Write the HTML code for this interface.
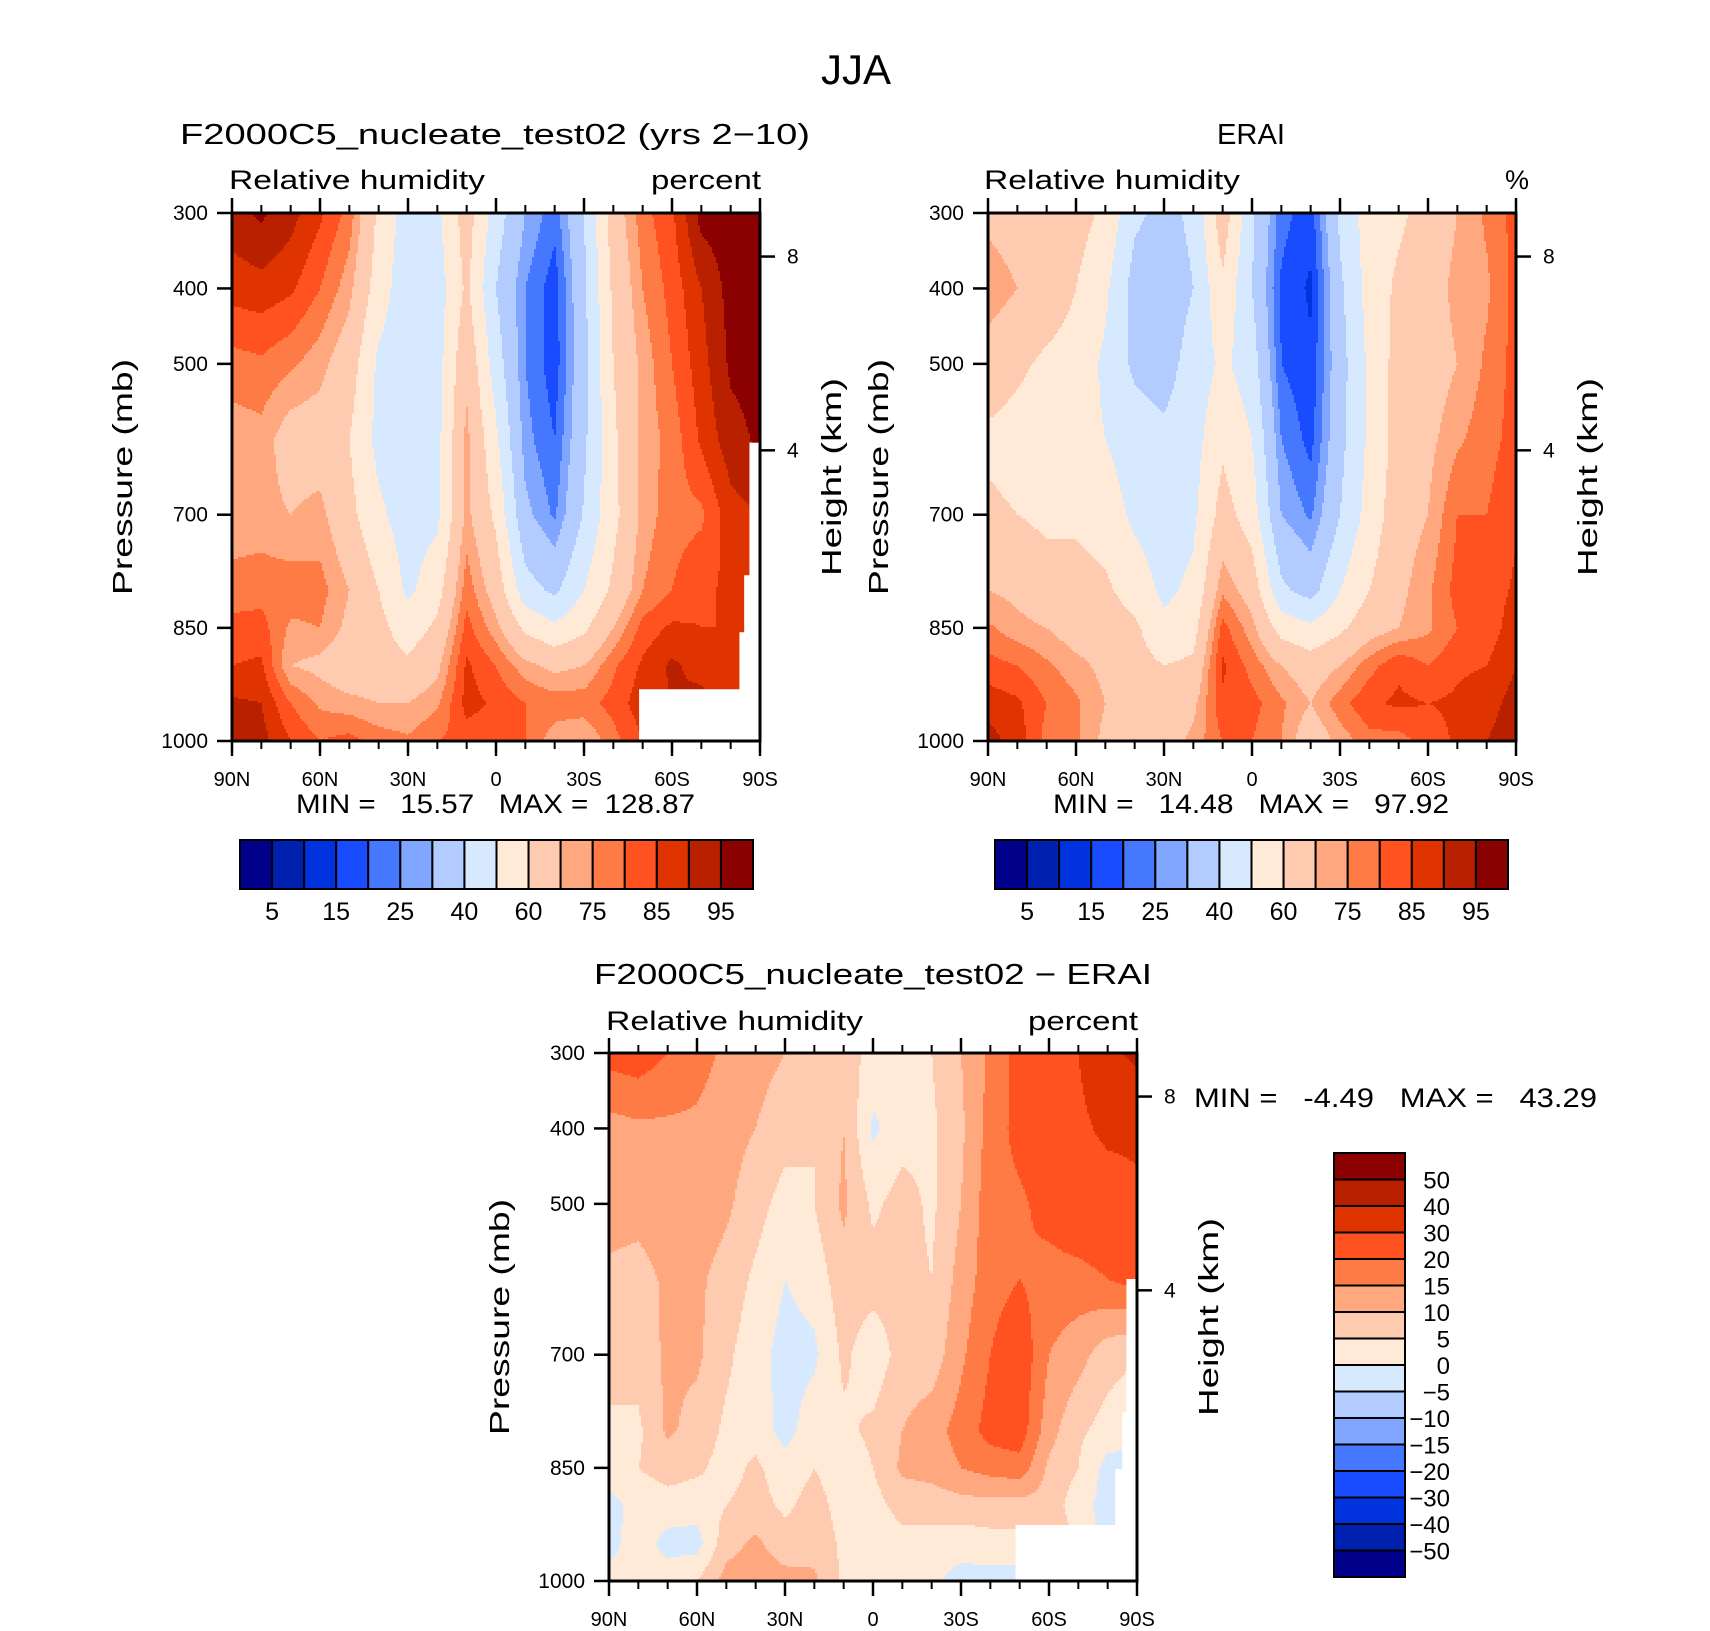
<!DOCTYPE html>
<html><head><meta charset="utf-8"><style>
html,body{margin:0;padding:0;background:#fff}
svg{display:block}
text{font-family:"Liberation Sans",sans-serif;fill:#000}
</style></head><body>
<svg id="fig" width="1710" height="1631" viewBox="0 0 1710 1631" xmlns="http://www.w3.org/2000/svg">
<text x="856" y="84" font-size="42" text-anchor="middle">JJA</text>
<text x="180" y="144" font-size="29" textLength="630" lengthAdjust="spacingAndGlyphs">F2000C5_nucleate_test02 (yrs 2−10)</text>
<text x="229" y="189" font-size="27" textLength="256" lengthAdjust="spacingAndGlyphs">Relative humidity</text>
<text x="651" y="189" font-size="27" textLength="110" lengthAdjust="spacingAndGlyphs">percent</text>
<text x="1251" y="144" font-size="29" text-anchor="middle" textLength="68" lengthAdjust="spacingAndGlyphs">ERAI</text>
<text x="984" y="189" font-size="27" textLength="256" lengthAdjust="spacingAndGlyphs">Relative humidity</text>
<text x="1505" y="189" font-size="27">%</text>
<text x="594" y="984" font-size="29" textLength="558" lengthAdjust="spacingAndGlyphs">F2000C5_nucleate_test02 − ERAI</text>
<text x="606" y="1030" font-size="27" textLength="257" lengthAdjust="spacingAndGlyphs">Relative humidity</text>
<text x="1028" y="1030" font-size="27" textLength="110" lengthAdjust="spacingAndGlyphs">percent</text>
<text x="296" y="813" font-size="27" textLength="399" lengthAdjust="spacingAndGlyphs" xml:space="preserve">MIN =   15.57   MAX =  128.87</text>
<text x="1053" y="813" font-size="27" textLength="396" lengthAdjust="spacingAndGlyphs" xml:space="preserve">MIN =   14.48   MAX =   97.92</text>
<text x="1194" y="1107" font-size="27" textLength="403" lengthAdjust="spacingAndGlyphs" xml:space="preserve">MIN =   -4.49   MAX =   43.29</text>
<g id="layers"></g>
</svg>
<script>
const pressures=[300,400,500,600,700,800,850,900,950,1000];
const latLabels=["90N","60N","30N","0","30S","60S","90S"];
const pTickLabels=[300,400,500,700,850,1000];
const heightTicks=[8,4];
const absLevels=[5,10,15,20,25,30,40,50,60,70,75,80,85,90,95];
const absLabels=["5","15","25","40","60","75","85","95"];
const diffLevels=[-50,-40,-30,-20,-15,-10,-5,0,5,10,15,20,30,40,50];
const diffLabels=["50","40","30","20","15","10","5","0","−5","−10","−15","−20","−30","−40","−50"];
const palette=["#00008B","#0020B0","#0033DD","#1A4CFF","#4577FF","#80A6FF","#B3CCFF","#D6E9FF","#FFEAD8","#FFCBB0","#FFA880","#FF7B45","#FF5220","#E03400","#B82000","#8B0000"];
// rows = pressures, cols = 90N..90S every 10 deg
const modelRH=[
[93,96,92,86,78,58,45,48,65,45,30,22,40,65,78,84,97,98,99],
[87,88,86,80,72,55,43,45,62,40,25,17,38,62,75,82,90,97,98],
[78,79,76,72,65,48,44,46,68,45,25,17,37,60,72,80,88,96,97],
[72,73,66,66,60,47,44,47,72,52,27,20,38,58,72,77,86,93,96],
[72,72,70,72,63,52,45,48,72,58,32,24,41,57,72,78,79,88,90],
[77,78,78,77,70,60,48,56,78,66,44,38,50,62,75,80,84,86,88],
[82,82,74,75,68,63,55,62,82,72,58,52,58,70,82,86,85,85,86],
[85,86,70,68,64,64,62,68,86,80,72,68,70,79,86,91,88,86,86],
[91,90,80,74,72,70,70,74,87,84,80,78,78,82,88,90,92,88,88],
[93,92,85,80,82,78,76,80,82,82,80,72,70,78,85,88,90,88,88]];
const eraiRH=[
[68,66,64,64,58,42,37,42,66,42,22,17,42,55,58,64,70,76,82],
[74,70,66,60,52,36,34,40,58,40,19,14,38,54,62,66,72,74,82],
[66,62,58,56,48,38,36,44,52,45,20,16,36,52,64,66,70,76,82],
[58,56,54,54,50,45,42,46,58,50,25,18,37,52,64,68,74,78,82],
[62,60,58,58,55,48,45,48,64,55,30,24,40,54,66,70,80,80,84],
[70,68,64,64,62,55,48,52,74,66,42,36,50,60,68,74,82,82,86],
[76,72,70,66,66,62,52,56,82,72,56,52,58,66,70,74,80,82,88],
[82,80,76,72,68,64,60,62,86,78,70,65,70,78,84,80,84,85,90],
[88,86,80,76,70,66,65,68,84,82,76,70,78,84,86,85,86,88,92],
[92,88,78,76,68,62,65,72,80,80,75,64,72,78,78,82,86,90,93]];
const diffRH=[
[22,23,20,17,14,12,10,9,8,3,3,5,10,16,22,23,30,38,42],
[13,14,14,14,12,10,7,5,10,-1,3,4,9,17,22,25,28,32,32],
[12,12,13,13,11,7,3,5,11,4,7,4,10,18,19,22,25,25,28],
[9,8,11,11,8,4,0,2,8,7,7,5,12,18,20,18,18,20,22],
[7,7,11,11,6,2,-2,-1,6,2,7,7,14,20,24,15,12,7,5],
[4,4,11,8,4,3,-2,3,4,6,10,13,17,22,23,12,6,3,2],
[3,5,7,6,3,6,2,5,2,5,11,12,15,17,18,9,5,-2,-2],
[-2,2,3,2,5,7,4,7,3,3,7,7,8,8,8,8,2,-2,-2],
[-2,3,-2,-2,8,11,7,8,4,2,3,3,2,3,3,10,4,-2,-2],
[2,2,3,5,12,13,12,11,4,1,3,1,-2,-2,-2,2,2,-2,-2]];

const NS="http://www.w3.org/2000/svg";
const root=document.getElementById('layers');
function mk(tag,attrs,parent){const e=document.createElementNS(NS,tag);for(const k in attrs)e.setAttribute(k,attrs[k]);(parent||root).appendChild(e);return e;}
function levelIndex(v,lv){let i=0;while(i<lv.length&&v>=lv[i])i++;return i;}
function sample(data,fx,p){
  const nx=data[0].length-1;let cx=fx*nx;let i=Math.min(Math.floor(cx),nx-1);const tx=cx-i;
  let k=0;while(k<pressures.length-2&&p>pressures[k+1])k++;
  const ty=Math.max(0,Math.min(1,(p-pressures[k])/(pressures[k+1]-pressures[k])));
  const a=data[k][i],b=data[k][i+1],c=data[k+1][i],d=data[k+1][i+1];
  return a*(1-tx)*(1-ty)+b*tx*(1-ty)+c*(1-tx)*ty+d*tx*ty;
}
function drawPanel(name,data,lv,x0,y0,w,h,mask){
  const g=mk('g',{});
  
  
  const xS=f=>x0+f*w, pS=p=>y0+(p-300)/700*h;
  const step=2;
  for(let y=0;y<h;y+=step){
    const p=300+((y+step/2)/h)*700;
    let runStart=0,runC=-1;
    for(let x=0;x<=w;x+=step){
      let c=-1;
      if(x<w){c=levelIndex(sample(data,Math.min(1,(x+step/2)/w),p),lv);}
      if(c!==runC){
        if(runC>=0){mk('rect',{x:x0+runStart,y:y0+y,width:Math.min(x,w)-runStart+0.6,height:step+0.6,fill:palette[runC]},g);}
        runStart=x;runC=c;
      }
    }
  }
  const mg=mk('g',{});
  
  
  mask.forEach(m=>{mk('rect',{x:x0+m[0]*w,y:y0+m[1]*h,width:(1-m[0])*w+1,height:(1-m[1])*h+1,fill:'#fff'},mg);});
  const fr=mk('rect',{x:x0,y:y0,width:w,height:h,fill:'none',stroke:'#000','stroke-width':3});
  
  
  for(let d=0;d<=180;d+=10){
    const X=xS(d/180),maj=d%30===0,L=maj?15:8;
    mk('line',{x1:X,x2:X,y1:y0+h,y2:y0+h+L,stroke:'#000','stroke-width':maj?2.5:2});
    mk('line',{x1:X,x2:X,y1:y0,y2:y0-L,stroke:'#000','stroke-width':maj?2.5:2});
  }
  latLabels.forEach((t,i)=>{
    const tx=mk('text',{x:xS(i/6),y:y0+h+45,'font-size':20,'text-anchor':'middle'});
    
    
    tx.textContent=t;
  });
  pTickLabels.forEach(p=>{
    const Y=pS(p);
    mk('line',{x1:x0-15,x2:x0,y1:Y,y2:Y,stroke:'#000','stroke-width':2.5});
    const tx=mk('text',{x:x0-24,y:Y+7,'font-size':21,'text-anchor':'end'});
    
    
    tx.textContent=p;
  });
  const hFrac={8:40/485,4:218/485};
  heightTicks.forEach(km=>{
    const Y=y0+hFrac[km]*h;
    mk('line',{x1:x0+w,x2:x0+w+15,y1:Y,y2:Y,stroke:'#000','stroke-width':2.5});
    const tx=mk('text',{x:x0+w+27,y:Y+7,'font-size':21});
    
    
    tx.textContent=km;
  });
  const cy=y0+h/2;
  const pl=mk('text',{x:0,y:0,'font-size':28,'text-anchor':'middle',transform:`translate(${x0-100},${cy}) rotate(-90)`,textLength:236,lengthAdjust:'spacingAndGlyphs'});
  
  
  pl.textContent='Pressure (mb)';
  const hl=mk('text',{x:0,y:0,'font-size':28,'text-anchor':'middle',transform:`translate(${x0+w+81},${cy}) rotate(-90)`,textLength:198,lengthAdjust:'spacingAndGlyphs'});
  
  
  hl.textContent='Height (km)';
}
function hColorbar(name,x0,y0,w,h){
  const g=mk('g',{});
  
  
  const bw=w/palette.length;
  palette.forEach((c,i)=>{mk('rect',{x:x0+i*bw,y:y0,width:bw,height:h,fill:c,stroke:'#000','stroke-width':2},g);});
  absLabels.forEach((t,i)=>{
    const tx=mk('text',{x:x0+(2*i+1)*bw,y:y0+h+31,'font-size':25,'text-anchor':'middle'},g);
    
    
    tx.textContent=t;
  });
}
function vColorbar(name,x0,y0,w,h){
  const g=mk('g',{});
  
  
  const bh=h/palette.length;
  palette.slice().reverse().forEach((c,i)=>{mk('rect',{x:x0,y:y0+i*bh,width:w,height:bh,fill:c,stroke:'#000','stroke-width':2},g);});
  diffLabels.forEach((t,i)=>{
    const tx=mk('text',{x:x0+w+45,y:y0+(i+1)*bh+9,'font-size':24,'text-anchor':'end'},g);
    
    
    tx.textContent=t;
  });
}
drawPanel('model-panel',modelRH,absLevels,232,213,528,528,[[0.980,0.435],[0.970,0.686],[0.961,0.794],[0.771,0.902]]);
drawPanel('erai-panel',eraiRH,absLevels,988,213,528,528,[]);
drawPanel('diff-panel',diffRH,diffLevels,609,1053,528,528,[[0.980,0.428],[0.972,0.68],[0.959,0.788],[0.770,0.894]]);
hColorbar('model-colorbar',240,840,513,49);
hColorbar('erai-colorbar',995,840,513,49);
vColorbar('diff-colorbar',1334,1153,71,424);
</script>
</body></html>
